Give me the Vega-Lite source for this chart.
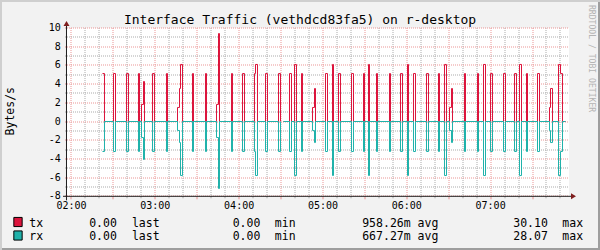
{
  "$schema": "https://vega.github.io/schema/vega-lite/v6.json",
  "width": 502,
  "height": 168.3,
  "autosize": {"type": "none"},
  "padding": {"left": 67, "top": 28, "right": 31, "bottom": 53.7},
  "background": "#f2f2f2",
  "config": {"view": {"fill": "#ffffff", "stroke": null}, "font": "DejaVu Sans Mono"},
  "resolve": {"axis": {"x": "independent", "y": "independent"}},
  "datasets": {
    "traffic": [
      {"t":142.19,"tx":5.13,"rx":-3.21},{"t":143.62,"tx":0,"rx":0},
      {"t":150.07,"tx":5.13,"rx":-3.21},{"t":151.50,"tx":0,"rx":0},
      {"t":159.37,"tx":5.13,"rx":-3.21},{"t":160.80,"tx":0,"rx":0},
      {"t":167.96,"tx":5.13,"rx":-3.21},{"t":168.68,"tx":0,"rx":0},
      {"t":170.11,"tx":1.82,"rx":-1.71},{"t":171.54,"tx":4.28,"rx":-4.06},{"t":172.26,"tx":0,"rx":0},
      {"t":177.98,"tx":5.13,"rx":-3.21},{"t":179.41,"tx":0,"rx":0},
      {"t":188.00,"tx":5.13,"rx":-3.21},{"t":188.72,"tx":0,"rx":0},
      {"t":195.88,"tx":1.50,"rx":-0.96},{"t":197.31,"tx":3.53,"rx":-2.25},{"t":198.03,"tx":6.10,"rx":-5.78},{"t":199.46,"tx":0,"rx":0},
      {"t":206.62,"tx":5.13,"rx":-3.21},{"t":207.33,"tx":0,"rx":0},
      {"t":215.92,"tx":5.13,"rx":-3.21},{"t":216.64,"tx":0,"rx":0},
      {"t":223.80,"tx":1.82,"rx":-1.71},{"t":225.23,"tx":9.41,"rx":-7.17},{"t":225.94,"tx":0,"rx":0},
      {"t":234.53,"tx":5.13,"rx":-3.21},{"t":235.25,"tx":0,"rx":0},
      {"t":242.41,"tx":5.13,"rx":-3.21},{"t":243.84,"tx":0,"rx":0},
      {"t":251.00,"tx":5.13,"rx":-3.21},{"t":251.71,"tx":6.10,"rx":-5.78},{"t":253.14,"tx":0,"rx":0},
      {"t":258.87,"tx":5.13,"rx":-3.21},{"t":260.30,"tx":0,"rx":0},
      {"t":268.18,"tx":5.13,"rx":-3.21},{"t":269.61,"tx":0,"rx":0},
      {"t":270.68,"tx":null,"rx":null},
      {"t":271.76,"tx":0,"rx":0},
      {"t":276.05,"tx":5.13,"rx":-3.21},{"t":277.48,"tx":0,"rx":0},
      {"t":279.63,"tx":6.10,"rx":-5.78},{"t":281.06,"tx":0,"rx":0},
      {"t":284.64,"tx":5.13,"rx":-3.21},{"t":285.36,"tx":0,"rx":0},
      {"t":292.51,"tx":1.50,"rx":-0.96},{"t":293.95,"tx":3.53,"rx":-2.25},{"t":294.66,"tx":0,"rx":0},
      {"t":301.82,"tx":5.13,"rx":-3.21},{"t":303.25,"tx":0,"rx":0},
      {"t":306.83,"tx":6.10,"rx":-5.78},{"t":307.55,"tx":0,"rx":0},
      {"t":311.13,"tx":5.13,"rx":-3.21},{"t":312.56,"tx":0,"rx":0},
      {"t":320.43,"tx":5.13,"rx":-3.21},{"t":321.86,"tx":0,"rx":0},
      {"t":329.02,"tx":5.13,"rx":-3.21},{"t":329.74,"tx":0,"rx":0},
      {"t":332.60,"tx":6.10,"rx":-5.78},{"t":333.32,"tx":0,"rx":0},
      {"t":338.33,"tx":5.13,"rx":-3.21},{"t":339.04,"tx":0,"rx":0},
      {"t":347.63,"tx":5.13,"rx":-3.21},{"t":348.35,"tx":0,"rx":0},
      {"t":355.51,"tx":5.13,"rx":-3.21},{"t":356.94,"tx":0,"rx":0},
      {"t":360.52,"tx":6.10,"rx":-5.78},{"t":361.23,"tx":0,"rx":0},
      {"t":364.81,"tx":5.13,"rx":-3.21},{"t":366.24,"tx":0,"rx":0},
      {"t":374.12,"tx":5.13,"rx":-3.21},{"t":375.55,"tx":0,"rx":0},
      {"t":382.71,"tx":5.13,"rx":-3.21},{"t":383.42,"tx":0,"rx":0},
      {"t":387.00,"tx":6.10,"rx":-5.78},{"t":388.43,"tx":0,"rx":0},
      {"t":390.58,"tx":1.50,"rx":-0.96},{"t":392.01,"tx":3.53,"rx":-2.25},{"t":392.73,"tx":0,"rx":0},
      {"t":401.32,"tx":5.13,"rx":-3.21},{"t":402.03,"tx":0,"rx":0},
      {"t":410.62,"tx":5.13,"rx":-3.21},{"t":411.34,"tx":0,"rx":0},
      {"t":414.92,"tx":6.10,"rx":-5.78},{"t":416.35,"tx":0,"rx":0},
      {"t":419.93,"tx":5.13,"rx":-3.21},{"t":421.36,"tx":0,"rx":0},
      {"t":429.24,"tx":5.13,"rx":-3.21},{"t":430.67,"tx":0,"rx":0},
      {"t":437.11,"tx":5.13,"rx":-3.21},{"t":438.54,"tx":0,"rx":0},
      {"t":440.69,"tx":6.10,"rx":-5.78},{"t":442.12,"tx":0,"rx":0},
      {"t":445.70,"tx":5.13,"rx":-3.21},{"t":446.42,"tx":0,"rx":0},
      {"t":453.57,"tx":5.13,"rx":-3.21},{"t":455.01,"tx":0,"rx":0},
      {"t":462.16,"tx":1.50,"rx":-0.96},{"t":462.88,"tx":3.53,"rx":-2.25},{"t":464.31,"tx":0,"rx":0},
      {"t":468.61,"tx":6.10,"rx":-5.78},{"t":470.04,"tx":5.13,"rx":-3.21},{"t":471.47,"tx":0,"rx":0},
      {"t":473.62,"tx":0,"rx":0}
    ],
    "stats": [
      {"series":"tx","last":"0.00","min":"0.00","avg":"958.26m","max":"30.10"},
      {"series":"rx","last":"0.00","min":"0.00","avg":"667.27m","max":"28.07"}
    ]
  },
  "layer": [
    {"data": {"name": "traffic"},
     "mark": {"type": "line", "interpolate": "step-after", "color": "#dc143c", "strokeWidth": 1},
     "encoding": {
       "x": {"field": "t", "type": "quantitative", "scale": {"domain": [116.78, 476.12], "nice": false, "zero": false},
             "axis": {"orient": "bottom", "values": [130,140,160,170,190,200,220,230,250,260,280,290,310,320,340,350,370,380,400,410,430,440,460,470],
                      "grid": true, "gridColor": "#ababab", "gridDash": [1, 1], "gridWidth": 1, "domain": false,
                      "ticks": true, "tickSize": 2, "tickWidth": 1, "tickColor": "#a8a8a8",
                      "labels": false, "title": null, "translate": 0}},
       "y": {"field": "tx", "type": "quantitative", "scale": {"domain": [-8, 10], "nice": false, "zero": false},
             "axis": {"orient": "left", "values": [-7,-5,-3,-1,1,3,5,7,9],
                      "grid": true, "gridColor": "#ababab", "gridDash": [1, 1], "gridWidth": 1, "domain": false,
                      "ticks": true, "tickSize": 2, "tickWidth": 1, "tickColor": "#a8a8a8",
                      "labels": false, "title": null, "translate": 0}}
     }},
    {"data": {"name": "traffic"},
     "mark": {"type": "line", "interpolate": "step-after", "color": "#20b2aa", "strokeWidth": 1},
     "encoding": {
       "x": {"field": "t", "type": "quantitative", "scale": {"domain": [116.78, 476.12], "nice": false, "zero": false},
             "axis": {"orient": "bottom", "values": [120,150,180,210,240,270,300,330,360,390,420,450],
                      "grid": true, "gridColor": "#eb9595", "gridDash": [1, 1], "gridWidth": 1, "domain": false,
                      "ticks": true, "tickSize": 3, "tickWidth": 1, "tickColor": "#e69090",
                      "labelExpr": "datum.value % 60 === 0 ? '0' + (datum.value / 60) + ':00' : ''",
                      "labelFont": "DejaVu Sans Mono", "labelFontSize": 10, "labelColor": "#000000",
                      "labelBaseline": "alphabetic", "labelPadding": 9.7, "labelFlush": false, "labelOverlap": false,
                      "title": null, "translate": 0}},
       "y": {"field": "rx", "type": "quantitative", "scale": {"domain": [-8, 10], "nice": false, "zero": false},
             "axis": {"orient": "left", "values": [-8,-6,-4,-2,0,2,4,6,8,10],
                      "grid": true, "gridColor": "#eb9595", "gridDash": [1, 1], "gridWidth": 1, "domain": false,
                      "ticks": true, "tickSize": 2, "tickWidth": 1, "tickColor": "#e69090",
                      "labelExpr": "'' + datum.value",
                      "labelFont": "DejaVu Sans Mono", "labelFontSize": 10, "labelColor": "#000000",
                      "labelBaseline": "middle", "labelPadding": 4.3, "labelFlush": false, "labelOverlap": false,
                      "title": "Bytes/s", "titleFont": "DejaVu Sans Mono", "titleFontSize": 11.5, "titleFontWeight": "normal", "titleColor": "#000000",
                      "titleX": -53.5, "titleY": 83.2, "titleAngle": 270, "titleAlign": "center", "titleBaseline": "alphabetic", "translate": 0}}
     }},
    {"data": {"values": [{}]}, "mark": {"type": "rect", "color": "#cfcfcf"},
     "encoding": {"x": {"datum": 68.82, "axis": null}, "x2": {"datum": 498.31}, "y": {"datum": 12.995, "axis": null}, "y2": {"datum": 12.781}}},
    {"data": {"values": [{}]}, "mark": {"type": "rect", "color": "#cfcfcf"},
     "encoding": {"x": {"datum": 68.82, "axis": null}, "x2": {"datum": 70.25}, "y": {"datum": 12.995, "axis": null}, "y2": {"datum": -13.743}}},
    {"data": {"values": [{}]}, "mark": {"type": "rect", "color": "#9e9e9e"},
     "encoding": {"x": {"datum": 70.25, "axis": null}, "x2": {"datum": 498.31}, "y": {"datum": -13.529, "axis": null}, "y2": {"datum": -13.743}}},
    {"data": {"values": [{}]}, "mark": {"type": "rect", "color": "#9e9e9e"},
     "encoding": {"x": {"datum": 496.88, "axis": null}, "x2": {"datum": 498.31}, "y": {"datum": 12.781, "axis": null}, "y2": {"datum": -13.743}}},
    {"data": {"values": [{}]},
     "mark": {"type": "text", "text": "Interface Traffic (vethdcd83fa5) on r-desktop", "align": "center", "baseline": "alphabetic", "fontSize": 13, "color": "#000000"},
     "encoding": {"x": {"datum": 283.57, "axis": null}, "y": {"datum": 10.481, "axis": null}}},
    {"data": {"values": [{}]},
     "mark": {"type": "text", "text": "RRDTOOL / TOBI OETIKER", "angle": 90, "align": "left", "baseline": "top", "fontSize": 8.1, "color": "#b4b4b4"},
     "encoding": {"x": {"datum": 494.73, "axis": null}, "y": {"datum": 12.46, "axis": null}}},
    {"data": {"values": [{}]}, "mark": {"type": "rule", "color": "#1f1f1f", "strokeWidth": 1},
     "encoding": {"x": {"datum": 113.92, "axis": null}, "x2": {"datum": 478.99}, "y": {"datum": -8, "axis": null}}},
    {"data": {"values": [{}]}, "mark": {"type": "rule", "color": "#1f1f1f", "strokeWidth": 1},
     "encoding": {"x": {"datum": 116.42, "axis": null}, "y": {"datum": -8.428, "axis": null}, "y2": {"datum": 10.428}}},
    {"data": {"values": [{}]}, "mark": {"type": "point", "shape": "M-1,-1.2L1,0L-1,1.2Z", "size": 25, "filled": true, "color": "#801f1f", "opacity": 1, "strokeWidth": 0},
     "encoding": {"x": {"datum": 479.34, "axis": null}, "y": {"datum": -8, "axis": null}}},
    {"data": {"values": [{}]}, "mark": {"type": "point", "shape": "M-1.2,1L1.2,1L0,-1Z", "size": 25, "filled": true, "color": "#801f1f", "opacity": 1, "strokeWidth": 0},
     "encoding": {"x": {"datum": 116.42, "axis": null}, "y": {"datum": 10.481, "axis": null}}},
    {"data": {"name": "stats"}, "transform": [{"filter": "datum.series === 'tx'"}],
     "mark": {"type": "point", "shape": "M-1,-1.1L1,-1.1L1,1.1L-1,1.1Z", "size": 69, "filled": true, "fill": "#dc143c", "stroke": "#000000", "strokeWidth": 1, "opacity": 1},
     "encoding": {"x": {"datum": 81.70, "axis": null}, "y": {"datum": -10.749, "axis": null}}},
    {"data": {"name": "stats"}, "transform": [{"filter": "datum.series === 'rx'"}],
     "mark": {"type": "point", "shape": "M-1,-1.1L1,-1.1L1,1.1L-1,1.1Z", "size": 69, "filled": true, "fill": "#20b2aa", "stroke": "#000000", "strokeWidth": 1, "opacity": 1},
     "encoding": {"x": {"datum": 81.70, "axis": null}, "y": {"datum": -12.193, "axis": null}}},
    {"data": {"name": "stats"}, "transform": [{"filter": "datum.series === 'tx'"}],
     "mark": {"type": "text", "align": "left", "baseline": "alphabetic", "fontSize": 11.5, "color": "#000000"},
     "encoding": {"x": {"datum": 89.79, "axis": null}, "y": {"datum": -11.23, "axis": null}, "text": {"field": "series"}}},
    {"data": {"name": "stats"}, "transform": [{"filter": "datum.series === 'rx'"}],
     "mark": {"type": "text", "align": "left", "baseline": "alphabetic", "fontSize": 11.5, "color": "#000000"},
     "encoding": {"x": {"datum": 89.79, "axis": null}, "y": {"datum": -12.674, "axis": null}, "text": {"field": "series"}}},
    {"data": {"name": "stats"}, "transform": [{"filter": "datum.series === 'tx'"}],
     "mark": {"type": "text", "align": "left", "baseline": "alphabetic", "fontSize": 11.5, "color": "#000000"},
     "encoding": {"x": {"datum": 132.67, "axis": null}, "y": {"datum": -11.23, "axis": null}, "text": {"field": "last"}}},
    {"data": {"name": "stats"}, "transform": [{"filter": "datum.series === 'rx'"}],
     "mark": {"type": "text", "align": "left", "baseline": "alphabetic", "fontSize": 11.5, "color": "#000000"},
     "encoding": {"x": {"datum": 132.67, "axis": null}, "y": {"datum": -12.674, "axis": null}, "text": {"field": "last"}}},
    {"data": {"name": "stats"}, "transform": [{"filter": "datum.series === 'tx'"}],
     "mark": {"type": "text", "align": "left", "baseline": "alphabetic", "fontSize": 11.5, "color": "#000000"},
     "encoding": {"x": {"datum": 235.39, "axis": null}, "y": {"datum": -11.23, "axis": null}, "text": {"field": "min"}}},
    {"data": {"name": "stats"}, "transform": [{"filter": "datum.series === 'rx'"}],
     "mark": {"type": "text", "align": "left", "baseline": "alphabetic", "fontSize": 11.5, "color": "#000000"},
     "encoding": {"x": {"datum": 235.39, "axis": null}, "y": {"datum": -12.674, "axis": null}, "text": {"field": "min"}}},
    {"data": {"name": "stats"}, "transform": [{"filter": "datum.series === 'tx'"}],
     "mark": {"type": "text", "align": "left", "baseline": "alphabetic", "fontSize": 11.5, "color": "#000000"},
     "encoding": {"x": {"datum": 328.09, "axis": null}, "y": {"datum": -11.23, "axis": null}, "text": {"field": "avg"}}},
    {"data": {"name": "stats"}, "transform": [{"filter": "datum.series === 'rx'"}],
     "mark": {"type": "text", "align": "left", "baseline": "alphabetic", "fontSize": 11.5, "color": "#000000"},
     "encoding": {"x": {"datum": 328.09, "axis": null}, "y": {"datum": -12.674, "axis": null}, "text": {"field": "avg"}}},
    {"data": {"name": "stats"}, "transform": [{"filter": "datum.series === 'tx'"}],
     "mark": {"type": "text", "align": "left", "baseline": "alphabetic", "fontSize": 11.5, "color": "#000000"},
     "encoding": {"x": {"datum": 436.18, "axis": null}, "y": {"datum": -11.23, "axis": null}, "text": {"field": "max"}}},
    {"data": {"name": "stats"}, "transform": [{"filter": "datum.series === 'rx'"}],
     "mark": {"type": "text", "align": "left", "baseline": "alphabetic", "fontSize": 11.5, "color": "#000000"},
     "encoding": {"x": {"datum": 436.18, "axis": null}, "y": {"datum": -12.674, "axis": null}, "text": {"field": "max"}}},
    {"data": {"name": "stats"}, "transform": [{"filter": "datum.series === 'tx'"}],
     "mark": {"type": "text", "align": "left", "baseline": "alphabetic", "fontSize": 11.5, "color": "#000000", "text": "last"},
     "encoding": {"x": {"datum": 163.24, "axis": null}, "y": {"datum": -11.23, "axis": null}}},
    {"data": {"name": "stats"}, "transform": [{"filter": "datum.series === 'rx'"}],
     "mark": {"type": "text", "align": "left", "baseline": "alphabetic", "fontSize": 11.5, "color": "#000000", "text": "last"},
     "encoding": {"x": {"datum": 163.24, "axis": null}, "y": {"datum": -12.674, "axis": null}}},
    {"data": {"name": "stats"}, "transform": [{"filter": "datum.series === 'tx'"}],
     "mark": {"type": "text", "align": "left", "baseline": "alphabetic", "fontSize": 11.5, "color": "#000000", "text": "min"},
     "encoding": {"x": {"datum": 265.53, "axis": null}, "y": {"datum": -11.23, "axis": null}}},
    {"data": {"name": "stats"}, "transform": [{"filter": "datum.series === 'rx'"}],
     "mark": {"type": "text", "align": "left", "baseline": "alphabetic", "fontSize": 11.5, "color": "#000000", "text": "min"},
     "encoding": {"x": {"datum": 265.53, "axis": null}, "y": {"datum": -12.674, "axis": null}}},
    {"data": {"name": "stats"}, "transform": [{"filter": "datum.series === 'tx'"}],
     "mark": {"type": "text", "align": "left", "baseline": "alphabetic", "fontSize": 11.5, "color": "#000000", "text": "avg"},
     "encoding": {"x": {"datum": 367.75, "axis": null}, "y": {"datum": -11.23, "axis": null}}},
    {"data": {"name": "stats"}, "transform": [{"filter": "datum.series === 'rx'"}],
     "mark": {"type": "text", "align": "left", "baseline": "alphabetic", "fontSize": 11.5, "color": "#000000", "text": "avg"},
     "encoding": {"x": {"datum": 367.75, "axis": null}, "y": {"datum": -12.674, "axis": null}}},
    {"data": {"name": "stats"}, "transform": [{"filter": "datum.series === 'tx'"}],
     "mark": {"type": "text", "align": "left", "baseline": "alphabetic", "fontSize": 11.5, "color": "#000000", "text": "max"},
     "encoding": {"x": {"datum": 471.33, "axis": null}, "y": {"datum": -11.23, "axis": null}}},
    {"data": {"name": "stats"}, "transform": [{"filter": "datum.series === 'rx'"}],
     "mark": {"type": "text", "align": "left", "baseline": "alphabetic", "fontSize": 11.5, "color": "#000000", "text": "max"},
     "encoding": {"x": {"datum": 471.33, "axis": null}, "y": {"datum": -12.674, "axis": null}}}
  ]
}
